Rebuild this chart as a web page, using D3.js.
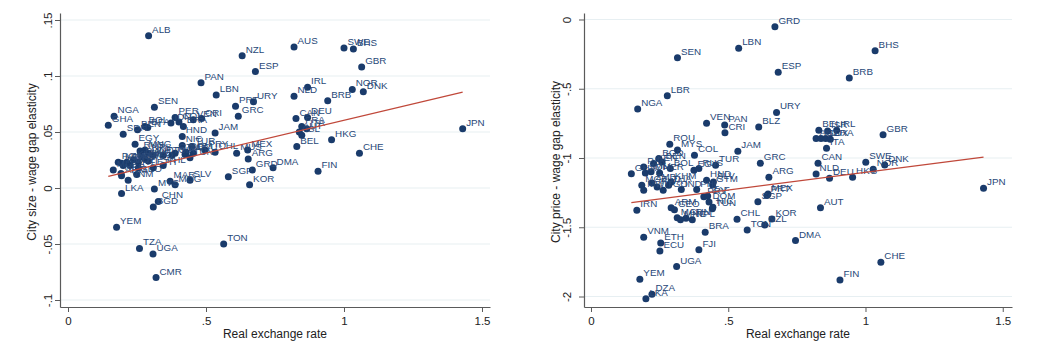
<!DOCTYPE html>
<html><head><meta charset="utf-8">
<script src="https://cdn.jsdelivr.net/npm/d3@7/dist/d3.min.js"></script>
<style>body{margin:0;background:#fff} svg{display:block}</style>
</head><body>
<svg id="c" width="1058" height="355"></svg>
<script>
// ---------- data ----------
const xTicks = [0, 0.5, 1, 1.5];
const xTickLabels = ["0", ".5", "1", "1.5"];
const xTitle = "Real exchange rate";

// Left panel: City size - wage gap elasticity
const leftTitle = "City size - wage gap elasticity";
const leftYTicks = [0.15, 0.1, 0.05, 0, -0.05, -0.1];
const leftYTickLabels = [".15", ".1", ".05", "0", "-.05", "-.1"];
const leftCodes = ["ALB","NZL","AUS","SWE","BHS","GBR","ESP","PAN","IRL","NOR","DNK","LBN","NLD","URY","BRB","PRT","SEN","GRC","NGA","GHA","CAN","DEU","FRA","ITA","AUT","ISL","BEL","HKG","CHE","FIN","JPN","DMA","GRD","KOR","SGP","TON","CHL","MEX","ARG","MUS","JAM","LKA","YEM","TZA","UGA","CMR","CHN","BGD","MYS","MAR","MDG","SLV","SDN","BEN","BOL","BFA","IDN","PER","COL","BRA","VEN","CRI","HND","NIC","TUR","DOM","ECU","PRY","GTM","EGY","RUS","MNG","NPL","IND","TTO","THA","ZAF","TUN","PAK","KEN","ZMB","MOZ","KHM","MWI","RWA","ZWE","TGO","ETH","PHL","MLI","NER","HTI","ARM","GEO","VNM","FJI"];
const leftX = [0.292,0.631,0.819,1.000,1.034,1.064,0.679,0.482,0.868,1.030,1.070,0.537,0.819,0.672,0.941,0.607,0.313,0.617,0.167,0.146,0.826,0.868,0.847,0.865,0.838,0.847,0.829,0.955,1.056,0.906,1.430,0.743,0.668,0.658,0.581,0.564,0.533,0.651,0.653,0.611,0.533,0.194,0.176,0.259,0.308,0.319,0.327,0.309,0.313,0.370,0.388,0.442,0.200,0.252,0.279,0.289,0.373,0.388,0.402,0.418,0.454,0.484,0.414,0.414,0.448,0.428,0.454,0.496,0.388,0.243,0.261,0.279,0.291,0.309,0.345,0.376,0.424,0.442,0.182,0.194,0.213,0.225,0.237,0.255,0.267,0.279,0.291,0.309,0.345,0.164,0.192,0.255,0.194,0.249,0.218,0.200];
const leftY = [0.136,0.118,0.126,0.125,0.124,0.108,0.104,0.094,0.090,0.088,0.086,0.083,0.082,0.077,0.078,0.073,0.072,0.064,0.064,0.056,0.062,0.063,0.055,0.053,0.050,0.047,0.037,0.043,0.031,0.015,0.053,0.018,0.016,0.003,0.010,-0.050,0.032,0.034,0.026,0.031,0.049,-0.005,-0.035,-0.054,-0.059,-0.080,-0.012,-0.017,-0.001,0.006,0.003,0.007,0.048,0.052,0.055,0.054,0.058,0.063,0.059,0.055,0.061,0.062,0.046,0.038,0.037,0.032,0.031,0.034,0.031,0.039,0.033,0.034,0.031,0.029,0.029,0.029,0.030,0.027,0.023,0.022,0.023,0.020,0.025,0.023,0.028,0.026,0.024,0.018,0.020,0.016,0.013,0.018,0.011,0.012,0.007,0.020];
const leftFitX = [0.146, 1.43];
const leftFitY = [0.0104, 0.0857];

// Right panel: City price - wage gap elasticity
const rightTitle = "City price - wage gap elasticity";
const rightYTicks = [0, -0.5, -1, -1.5, -2];
const rightYTickLabels = ["0", "-.5", "-1", "-1.5", "-2"];
const rightCodes = ["GRD","LBN","BHS","SEN","ESP","BRB","LBR","NGA","URY","VEN","PAN","CRI","BLZ","BEL","ISR","IRL","AUS","ISL","LUX","FRA","ITA","GBR","ROU","MYS","COL","JAM","GRC","TUR","CAN","SWE","NOR","DNK","NLD","DEU","HKG","JPN","ARG","MEX","PRT","SGP","AUT","KOR","NZL","TON","CHL","DMA","BRA","FJI","UGA","VNM","ETH","ECU","YEM","DZA","LKA","CHE","FIN","IRN","GHA","PAK","SDN","KEN","BGD","BEN","MLI","NER","BOL","ZMB","MOZ","MWI","RWA","TGO","THA","KHM","IND","EGY","RUS","PHL","HND","SLV","GTM","PRY","DOM","TUN","ARM","GEO","MAR","MNG","NPL","CHN","ZAF","NIC"];
const rightX = [0.670,0.538,1.035,0.315,0.682,0.941,0.278,0.170,0.676,0.421,0.487,0.488,0.611,0.830,0.862,0.895,0.820,0.838,0.855,0.872,0.858,1.064,0.287,0.315,0.377,0.535,0.617,0.454,0.827,1.001,1.028,1.070,0.820,0.869,0.953,1.430,0.648,0.645,0.641,0.608,0.836,0.659,0.633,0.569,0.532,0.745,0.416,0.393,0.312,0.192,0.254,0.251,0.178,0.222,0.200,1.056,0.907,0.167,0.147,0.192,0.198,0.228,0.247,0.259,0.219,0.250,0.289,0.222,0.185,0.192,0.241,0.263,0.283,0.292,0.329,0.375,0.393,0.385,0.421,0.446,0.443,0.411,0.430,0.442,0.292,0.304,0.314,0.326,0.369,0.346,0.425,0.444];
const rightY = [-0.053,-0.207,-0.226,-0.276,-0.380,-0.423,-0.550,-0.647,-0.671,-0.750,-0.762,-0.817,-0.776,-0.800,-0.805,-0.800,-0.860,-0.860,-0.860,-0.865,-0.930,-0.832,-0.901,-0.942,-0.980,-0.952,-1.038,-1.052,-1.038,-1.031,-1.082,-1.050,-1.115,-1.147,-1.139,-1.219,-1.139,-1.260,-1.270,-1.315,-1.360,-1.440,-1.483,-1.519,-1.442,-1.596,-1.536,-1.663,-1.784,-1.572,-1.613,-1.671,-1.875,-1.983,-2.017,-1.752,-1.880,-1.377,-1.113,-1.065,-1.108,-1.040,-1.004,-1.028,-1.100,-1.108,-1.076,-1.180,-1.197,-1.233,-1.209,-1.233,-1.197,-1.173,-1.228,-1.089,-1.076,-1.228,-1.161,-1.173,-1.195,-1.280,-1.318,-1.366,-1.359,-1.373,-1.431,-1.445,-1.445,-1.435,-1.274,-1.356];
const rightFitX = [0.147, 1.43];
const rightFitY = [-1.322, -0.993];

// ---------- drawing ----------
const svg = d3.select("#c");
const FONT = "'Liberation Sans', Arial, Helvetica, sans-serif";
const NAVY = "#1a3b6b";
const AXIS = "#5a5a5a";

function drawPanel(p) {
  const g = svg.append("g");
  const x = d3.scaleLinear().domain(p.xDomain).range([p.left, p.right]);
  const y = d3.scaleLinear().domain(p.yDomain).range([p.bottom, p.top]);

  // gridlines
  g.append("g").selectAll("line").data(p.yTicks).join("line")
    .attr("x1", p.left + 1).attr("x2", p.right)
    .attr("y1", d => y(d)).attr("y2", d => y(d))
    .attr("stroke", "#e7eff2").attr("stroke-width", 1.2);

  // x axis
  const xa = g.append("g").attr("transform", `translate(0,${p.bottom})`)
    .call(d3.axisBottom(x).tickValues(xTicks).tickFormat((d, i) => xTickLabels[i]).tickSizeInner(5).tickSizeOuter(0));
  xa.select(".domain").attr("stroke", AXIS).attr("stroke-width", 1.2);
  xa.selectAll(".tick line").attr("stroke", AXIS);
  xa.selectAll(".tick text").attr("y", 17.5).attr("dy", null)
    .attr("font-family", FONT).attr("font-size", 11.5).attr("fill", "#222");

  // y axis
  const ya = g.append("g").attr("transform", `translate(${p.left},0)`)
    .call(d3.axisLeft(y).tickValues(p.yTicks).tickFormat((d, i) => p.yTickLabels[i]).tickSizeInner(5).tickSizeOuter(0));
  ya.select(".domain").attr("stroke", AXIS).attr("stroke-width", 1.2);
  ya.selectAll(".tick line").attr("stroke", AXIS);
  ya.selectAll(".tick text").attr("x", null).attr("dy", null)
    .attr("text-anchor", "middle")
    .attr("transform", `translate(${p.yLabOff},0) rotate(-90)`)
    .attr("font-family", FONT).attr("font-size", 11.5).attr("fill", "#222");

  // axis titles
  g.append("text").attr("x", (p.left + p.right) / 2).attr("y", 338)
    .attr("text-anchor", "middle").attr("font-family", FONT).attr("font-size", 12).attr("fill", "#222")
    .text(xTitle);
  g.append("text").attr("transform", `translate(${p.titleX},${(p.top + p.bottom) / 2 + 2}) rotate(-90)`)
    .attr("text-anchor", "middle").attr("font-family", FONT).attr("font-size", 12).attr("fill", "#222")
    .text(p.title);

  const pts = p.codes.map((c, i) => ({ c, x: p.xs[i], y: p.ys[i] }));

  // markers
  g.append("g").selectAll("circle").data(pts).join("circle")
    .attr("cx", d => x(d.x)).attr("cy", d => y(d.y)).attr("r", 3.5)
    .attr("fill", NAVY);

  // marker labels
  g.append("g").selectAll("text").data(pts).join("text")
    .attr("x", d => x(d.x) + 3.5).attr("y", d => y(d.y) - 3)
    .attr("font-family", FONT).attr("font-size", 9.8).attr("fill", "#284878")
    .text(d => d.c);

  // fitted line
  const fit = p.fitX.map((v, i) => [v, p.fitY[i]]);
  g.append("path").datum(fit)
    .attr("d", d3.line().x(d => x(d[0])).y(d => y(d[1])))
    .attr("fill", "none").attr("stroke", "#c0483a").attr("stroke-width", 1.3);
}

drawPanel({
  left: 60, right: 490, top: 13, bottom: 307,
  xDomain: [-0.029, 1.529], yDomain: [-0.10625, 0.15625],
  yTicks: leftYTicks, yTickLabels: leftYTickLabels, yLabOff: -8, titleX: 36,
  title: leftTitle, codes: leftCodes, xs: leftX, ys: leftY, fitX: leftFitX, fitY: leftFitY
});
drawPanel({
  left: 584, right: 1012, top: 13, bottom: 307,
  xDomain: [-0.0255, 1.5337], yDomain: [-2.0758, 0.0469],
  yTicks: rightYTicks, yTickLabels: rightYTickLabels, yLabOff: -13, titleX: 559.5,
  title: rightTitle, codes: rightCodes, xs: rightX, ys: rightY, fitX: rightFitX, fitY: rightFitY
});
</script>
</body></html>
